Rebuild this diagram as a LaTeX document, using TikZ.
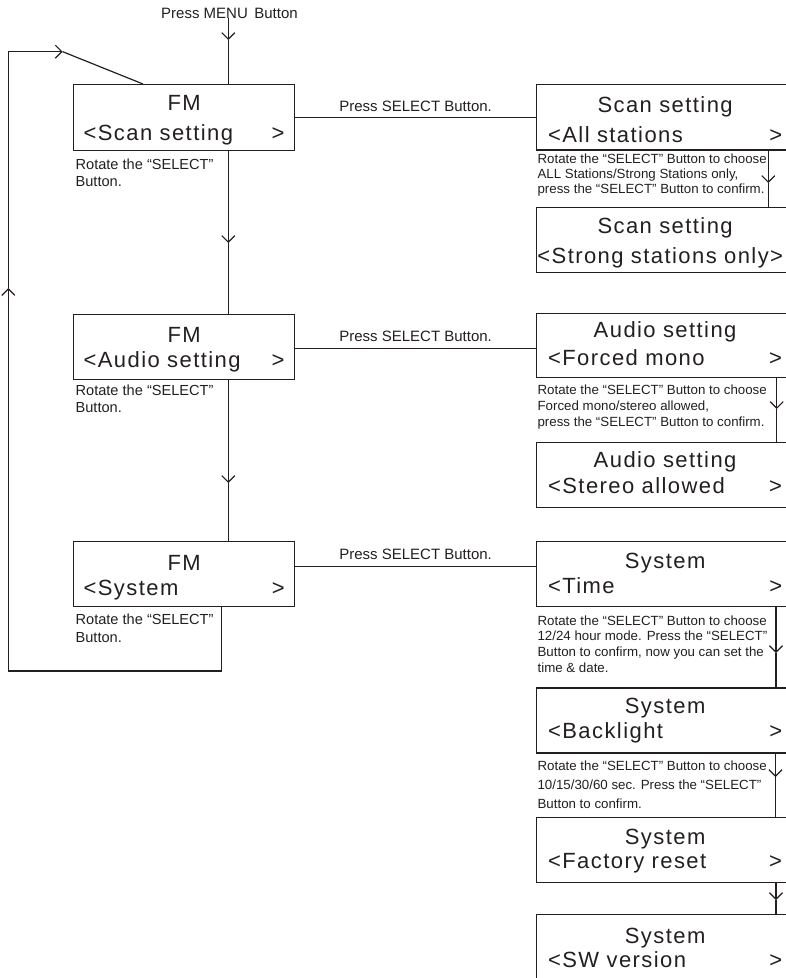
\documentclass[tikz,border=0pt]{standalone}
\usepackage{fontspec}
\setmainfont{Liberation Sans}
\newfontfamily\boxfont[LetterSpace=6.5]{Liberation Sans}
\usetikzlibrary{arrows.meta}
\definecolor{ink}{HTML}{231F20}
\newcommand\bxt[5]{\rule{0pt}{#2pt}#4\\#5\rule[-\dimexpr#1pt-#2pt-#3pt\relax]{0pt}{\dimexpr#1pt-#2pt-#3pt\relax}}
\newcommand\bxfont[1]{\boxfont\fontsize{22pt}{#1pt}\selectfont\spaceskip=7.5pt\relax}
\begin{document}
\begin{tikzpicture}[x=1pt,y=-1pt,color=ink,line width=1.2pt,
  chev/.style={-{Straight Barb[length=6.5pt,width=13pt]}},
  lbox/.style={draw,anchor=north west,font=\bxfont{#1},
     minimum width=221pt,text width=201pt,inner xsep=10pt,inner ysep=0pt,align=center},
  rbox/.style={draw,anchor=north west,font=\bxfont{#1},
     minimum width=257pt,text width=234pt,inner xsep=11.5pt,inner ysep=0pt,align=center},
  desc/.style={anchor=north west,inner sep=0pt,align=left,font=\fontsize{13.3pt}{#1pt}\selectfont},
  llab/.style={anchor=north west,inner sep=0pt,align=left,font=\fontsize{14.6pt}{#1pt}\selectfont},
  plab/.style={inner sep=0pt,font=\fontsize{15pt}{18pt}\selectfont}]
\useasboundingbox (0,0) rectangle (786,978);
\clip (0,0) rectangle (786,978);

% left column
\node[plab] (menu) at (229.5,13.3) {Press MENU\hspace{6.5pt}Button};
\node[lbox=30.5] (L1) at (73,84) {\bxt{66}{25.5}{30.5}{FM}{<Scan setting\hfill>}};
\node[lbox=25.6] (L2) at (73,314) {\bxt{65}{27.7}{25.6}{FM}{<Audio setting\hfill>}};
\node[lbox=25] (L3) at (73,541) {\bxt{65}{29.3}{25}{FM}{<System\hfill>}};

\node[llab=17] (T1) at (75,158.6) {Rotate the “SELECT”\\Button.};
\node[llab=16.5] (T2) at (75,384.6) {Rotate the “SELECT”\\Button.};
\node[llab=18.6] (T3) at (75,613.2) {Rotate the “SELECT”\\Button.};

% right column
\node[rbox=30] (R1) at (536,84) {\bxt{65.3}{27.7}{30}{Scan setting}{<All stations\hfill>}};
\node[rbox=30] (R2) at (536,206.7) {\bxt{65}{26.6}{30}{Scan setting}{\makebox[\linewidth][l]{\hspace*{-10.7pt}<Strong stations only>}}};
\node[rbox=27.7] (R3) at (536,312.7) {\bxt{64}{24.6}{27.7}{Audio setting}{<Forced mono\hfill>}};
\node[rbox=26.6] (R4) at (536,441.7) {\bxt{65}{25}{26.6}{Audio setting}{<Stereo allowed\hfill>}};
\node[rbox=25] (R5) at (536,540.7) {\bxt{65}{27.6}{25}{System}{<Time\hfill>}};
\node[rbox=25] (R6) at (536,687.3) {\bxt{65}{26}{25}{System}{<Backlight\hfill>}};
\node[rbox=24.3] (R7) at (536,816.7) {\bxt{65}{27.3}{24.3}{System}{<Factory reset\hfill>}};
\node[rbox=23.4] (R8) at (536,914) {\bxt{65}{29.3}{23.4}{System}{<SW version\hfill>}};

\node[desc=15] (D1) at (537,153.3) {Rotate the “SELECT” Button to choose\\ALL Stations/Strong Stations only,\\press the “SELECT” Button to confirm.};
\node[desc=16.2] (D3) at (537,384.3) {Rotate the “SELECT” Button to choose\\Forced mono/stereo allowed,\\press the “SELECT” Button to confirm.};
\node[desc=15.6] (D5) at (537,615) {Rotate the “SELECT” Button to choose\\12/24 hour mode. Press the “SELECT”\\Button to confirm, now you can set the\\time \& date.};
\node[desc=19] (D6) at (537,760) {Rotate the “SELECT” Button to choose\\10/15/30/60 sec. Press the “SELECT”\\Button to confirm.};

% left vertical connectors
\coordinate (m0) at (228.3,18);
\coordinate (a0) at (228.3,40);
\coordinate (a1) at (228.3,243);
\coordinate (a2) at (228.3,483);
\draw[chev] (m0) -- (a0);
\draw (a0) -- (L1.north -| a0);
\draw[chev] (L1.south -| a1) -- (a1);
\draw (a1) -- (L2.north -| a1);
\draw[chev] (L2.south -| a2) -- (a2);
\draw (a2) -- (L3.north -| a2);

% loop back
\coordinate (c1) at (221.7,671);
\coordinate (c2) at (8.3,671);
\coordinate (c3) at (8.3,288);
\coordinate (c4) at (8.3,51.7);
\coordinate (c5) at (62.7,51.7);
\coordinate (c6) at (143,84);
\draw[chev] (L3.south -| c1) -- (c1) -- (c2) -- (c3);
\draw[chev] (c3) -- (c4) -- (c5);
\draw (c5) -- (L1.north -| c6);

% horizontal connectors
\draw (L1.east) -- node[plab,above=5pt] (P1) {Press SELECT Button.} (L1.east -| R1.west);
\draw ([yshift=-1.2pt]L2.east) -- node[plab,above=6.5pt] (P2) {Press SELECT Button.} ([yshift=-1.2pt]L2.east -| R3.west);
\draw ([yshift=7.5pt]L3.east) -- node[plab,above=6.5pt] (P3) {Press SELECT Button.} ([yshift=7.5pt]L3.east -| R5.west);

% right vertical connectors
\coordinate (r1) at (768.3,183);
\coordinate (r2) at (776.7,409);
\coordinate (r3) at (776,653);
\coordinate (r4) at (775.5,777);
\coordinate (r5) at (776,900);
\draw[chev] (R1.south -| r1) -- (r1);
\draw (r1) -- (R2.north -| r1);
\draw[chev] (R3.south -| r2) -- (r2);
\draw (r2) -- (R4.north -| r2);
\draw[chev] (R5.south -| r3) -- (r3);
\draw (r3) -- (R6.north -| r3);
\draw[chev] (R6.south -| r4) -- (r4);
\draw (r4) -- (R7.north -| r4);
\draw[chev] (R7.south -| r5) -- (r5);
\draw (r5) -- (R8.north -| r5);
\end{tikzpicture}
\end{document}
